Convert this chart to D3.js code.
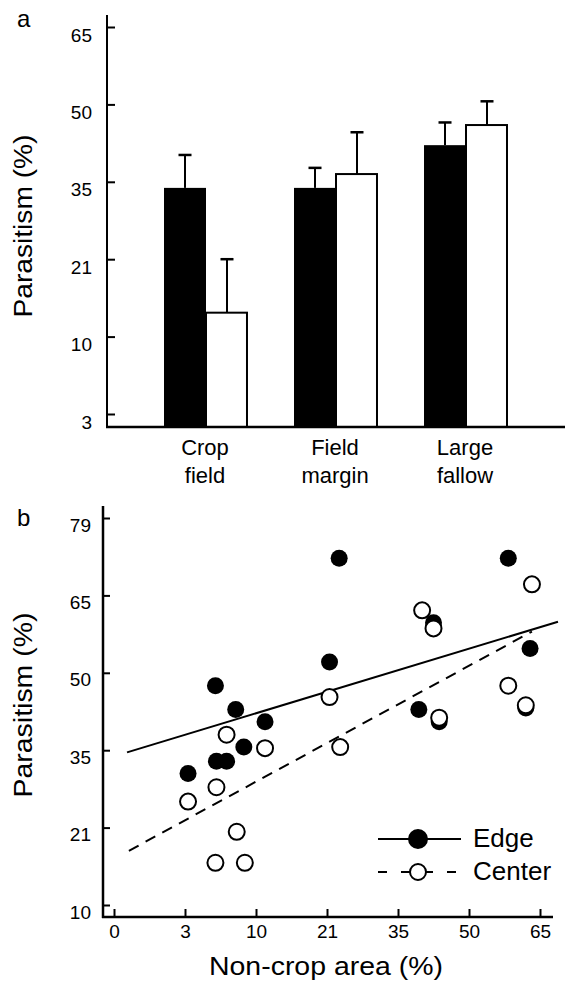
<!DOCTYPE html>
<html>
<head>
<meta charset="utf-8">
<script src="https://cdn.jsdelivr.net/npm/d3@7"></script>
<style>
  html, body { margin: 0; padding: 0; background: #fff; }
  svg { display: block; font-family: "Liberation Sans", Arial, Helvetica, sans-serif; }
</style>
</head>
<body>
<svg id="chart" width="565" height="981"></svg>
<script>
// ---------- Panel a data ----------
const categories = ["Crop field", "Field margin", "Large fallow"];
const series = ["Edge", "Center"];
const barEdge = [33.9, 33.9, 42.1];
const barCenter = [13.4, 36.5, 46.0];
const barEdgeUpper = [40.2, 37.7, 46.5];
const barCenterUpper = [21.0, 44.6, 50.6];
const yTicksA = [3, 10, 21, 35, 50, 65];

// ---------- Panel b data ----------
const edgeX = [23.4, 58.3, 42.5, 21.5, 62.9, 62.0, 39.4, 43.7, 6.0, 8.0, 11.4, 8.8, 6.1, 7.1, 3.3];
const edgeY = [71.7, 71.7, 59.7, 52.1, 54.7, 43.2, 42.9, 40.5, 47.5, 42.9, 40.5, 35.6, 33.0, 33.0, 30.8];
const centerX = [63.3, 40.1, 42.5, 21.5, 58.3, 62.0, 43.7, 23.6, 7.1, 11.4, 6.1, 3.3, 8.1, 6.0, 8.9];
const centerY = [67.0, 62.1, 58.6, 45.3, 47.5, 43.7, 41.3, 35.6, 38.0, 35.4, 28.3, 25.7, 20.4, 16.0, 16.0];
const edgeFitX = [0.55, 68.8];
const edgeFitY = [34.6, 59.9];
const centerFitX = [0.63, 63.3];
const centerFitY = [17.7, 58.0];
const xTicksB = [0, 3, 10, 21, 35, 50, 65];
const yTicksB = [10, 21, 35, 50, 65, 79];

const svg = d3.select("#chart");
const FONT_TICK = 19;
const FAMILY = '"Liberation Sans", Arial, Helvetica, sans-serif';

function styleAxis(g, tx, ty) {
  g.attr("font-family", FAMILY).attr("font-size", FONT_TICK);
  g.select(".domain").remove();
  g.selectAll(".tick line").attr("stroke", "#000").attr("stroke-width", 2);
  g.selectAll(".tick text").attr("fill", "#000").attr("dy", null);
  if (tx !== null) g.selectAll(".tick text").attr("x", tx);
  if (ty !== null) g.selectAll(".tick text").attr("y", ty);
}

// ================= PANEL A =================
const aLeft = 107, aRight = 565, aTop = 15, aBase = 427;
const aTick0 = 414, aTickStep = 77.4;
const yA = d3.scaleLinear()
  .domain(yTicksA)
  .range(yTicksA.map((d, i) => aTick0 - i * aTickStep));

const xA = d3.scaleBand().domain(categories).range([aLeft, aRight])
  .paddingInner(0.354).paddingOuter(0.4385);
const xS = d3.scaleBand().domain(series).range([0, xA.bandwidth()]);

const gA = svg.append("g");

// y axis
const gyA = gA.append("g").attr("transform", `translate(${aLeft},0)`)
  .call(d3.axisLeft(yA).tickValues(yTicksA).tickSize(-8).tickSizeOuter(0));
styleAxis(gyA, -15, 14);
gA.append("line").attr("x1", aLeft).attr("x2", aLeft).attr("y1", aTop).attr("y2", aBase + 1)
  .attr("stroke", "#000").attr("stroke-width", 2);

// bars
const barRows = categories.map((c, i) => [
  { cat: c, s: "Edge", v: barEdge[i], up: barEdgeUpper[i] },
  { cat: c, s: "Center", v: barCenter[i], up: barCenterUpper[i] }
]).flat();

const bw = xS.bandwidth();
const eb = gA.append("g");
barRows.forEach(d => {
  const cx = xA(d.cat) + xS(d.s) + bw / 2;
  eb.append("line").attr("x1", cx).attr("x2", cx).attr("y1", yA(d.v)).attr("y2", yA(d.up))
    .attr("stroke", "#000").attr("stroke-width", 2);
  eb.append("line").attr("x1", cx - 6.5).attr("x2", cx + 6.5).attr("y1", yA(d.up)).attr("y2", yA(d.up))
    .attr("stroke", "#000").attr("stroke-width", 2.5);
});

gA.append("g").selectAll("rect").data(barRows).join("rect")
  .attr("x", d => xA(d.cat) + xS(d.s))
  .attr("y", d => yA(d.v))
  .attr("width", d => d.s === "Center" ? bw - 1 : bw)
  .attr("height", d => aBase - yA(d.v))
  .attr("fill", d => d.s === "Edge" ? "#000" : "#fff")
  .attr("stroke", d => d.s === "Edge" ? "none" : "#000")
  .attr("stroke-width", 2);

// x axis line
gA.append("line").attr("x1", aLeft - 1).attr("x2", aRight).attr("y1", aBase).attr("y2", aBase)
  .attr("stroke", "#000").attr("stroke-width", 2.5);

// category labels
const catG = gA.append("g").attr("font-size", 22).attr("text-anchor", "middle").attr("fill", "#000");
categories.forEach(c => {
  const cx = xA(c) + xA.bandwidth() / 2 - 1;
  const t = catG.append("text").attr("x", cx).attr("y", 455);
  c.split(" ").forEach((w, k) => t.append("tspan").attr("x", cx).attr("y", 455 + k * 28).text(w));
});

// y title
gA.append("text").attr("transform", `translate(32,226) rotate(-90)`)
  .attr("text-anchor", "middle").attr("font-size", 25)
  .attr("textLength", 183).attr("lengthAdjust", "spacingAndGlyphs")
  .text("Parasitism (%)");
gA.append("text").attr("x", 17).attr("y", 27).attr("font-size", 24).text("a");

// ================= PANEL B =================
const bLeft = 103, bRight = 553, bTop = 506, bBase = 917;
const xB = d3.scaleLinear().domain(xTicksB).range(xTicksB.map((d, i) => 114 + i * 71));
const yB = d3.scaleLinear().domain(yTicksB).range(yTicksB.map((d, i) => 905 - i * 77.4));
const gB = svg.append("g");

const gyB = gB.append("g").attr("transform", `translate(${bLeft},0)`)
  .call(d3.axisLeft(yB).tickValues(yTicksB).tickSize(-7).tickSizeOuter(0));
styleAxis(gyB, -12, 13);

const gxB = gB.append("g").attr("transform", `translate(0,${bBase})`)
  .call(d3.axisBottom(xB).tickValues(xTicksB).tickSize(-8).tickSizeOuter(0));
styleAxis(gxB, null, 21);

gB.append("line").attr("x1", bLeft).attr("x2", bLeft).attr("y1", bTop).attr("y2", bBase + 1)
  .attr("stroke", "#000").attr("stroke-width", 2.5);
gB.append("line").attr("x1", bLeft - 1).attr("x2", bRight).attr("y1", bBase).attr("y2", bBase)
  .attr("stroke", "#000").attr("stroke-width", 2.5);

// regression lines
const lineGen = d3.line().x(d => xB(d[0])).y(d => yB(d[1]));
gB.append("path").attr("d", lineGen(d3.zip(edgeFitX, edgeFitY)))
  .attr("fill", "none").attr("stroke", "#000").attr("stroke-width", 2);
gB.append("path").attr("d", lineGen(d3.zip(centerFitX, centerFitY)))
  .attr("fill", "none").attr("stroke", "#000").attr("stroke-width", 2)
  .attr("stroke-dasharray", "11,8");

// points
gB.append("g").selectAll("circle").data(d3.zip(edgeX, edgeY)).join("circle")
  .attr("cx", d => xB(d[0])).attr("cy", d => yB(d[1])).attr("r", 8.5).attr("fill", "#000");
gB.append("g").selectAll("circle").data(d3.zip(centerX, centerY)).join("circle")
  .attr("cx", d => xB(d[0])).attr("cy", d => yB(d[1])).attr("r", 8)
  .attr("fill", "#fff").attr("stroke", "#000").attr("stroke-width", 2);

// legend
const leg = gB.append("g");
series.forEach((s, i) => {
  const y = 839 + i * 33;
  leg.append("line").attr("x1", 378).attr("x2", 461).attr("y1", y).attr("y2", y)
    .attr("stroke", "#000").attr("stroke-width", 2)
    .attr("stroke-dasharray", s === "Center" ? "9,14" : null);
  leg.append("circle").attr("cx", 418).attr("cy", y).attr("r", s === "Edge" ? 9 : 8)
    .attr("fill", s === "Edge" ? "#000" : "#fff").attr("stroke", "#000").attr("stroke-width", 2);
  leg.append("text").attr("x", 473).attr("y", y + 7.5).attr("font-size", 26).text(s);
});

// titles
gB.append("text").attr("transform", `translate(32,705) rotate(-90)`)
  .attr("text-anchor", "middle").attr("font-size", 25)
  .attr("textLength", 185).attr("lengthAdjust", "spacingAndGlyphs")
  .text("Parasitism (%)");
gB.append("text").attr("x", 326).attr("y", 975).attr("text-anchor", "middle").attr("font-size", 26)
  .attr("textLength", 234).attr("lengthAdjust", "spacingAndGlyphs")
  .text("Non-crop area (%)");
gB.append("text").attr("x", 17).attr("y", 526).attr("font-size", 24).text("b");
</script>
</body>
</html>
